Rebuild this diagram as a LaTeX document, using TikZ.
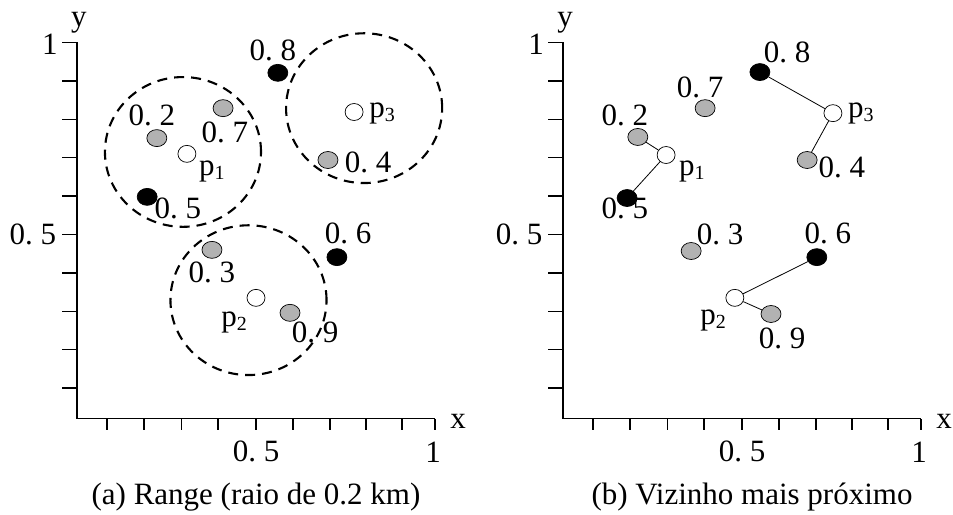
\documentclass[tikz,border=0pt]{standalone}
\usepackage{fontspec}
\setmainfont{Liberation Serif}
\usetikzlibrary{shapes.geometric}
\definecolor{dotgray}{RGB}{178,178,178}
\newcommand\psub[1]{p\raisebox{-4pt}{\fontsize{20}{20}\selectfont#1}}
\tikzset{
  obj/.style={ellipse,draw,line width=0.7pt,minimum width=20pt,minimum height=17pt,inner sep=0pt},
  wdot/.style={obj,fill=white,minimum width=18pt},
  gdot/.style={obj,fill=dotgray},
  bdot/.style={obj,fill=black},
  lab/.style={font=\fontsize{31}{36}\selectfont,inner sep=0pt},
  rng/.style={line width=2.1pt,dash pattern=on 10pt off 7pt},
  ax/.style={line width=1.3pt},
  link/.style={line width=0.8pt}
}
\begin{document}
\begin{tikzpicture}[x=358pt,y=384pt]
  \useasboundingbox (-77pt,-87.5pt) rectangle (876pt,426.5pt);
  % axes of both panels
  \foreach \dx/\s in {0/a,486/b}{
    \begin{scope}[xshift=\dx pt]
      \draw[ax] (0,1) -- (0,0.02) -- (1,0.02);
      \foreach \t in {0.1,0.2,...,1} \draw[ax] (0,\t) -- ++(-15pt,0);
      \foreach \t in {0.084,0.187,0.291,0.394,0.5,0.603,0.707,0.807,0.908,1} \draw[ax] (\t,0.02) -- ++(0,-11pt);
      \node[lab] (\s y1) at ([xshift=-27pt,yshift=-2pt]0,1) {1};
      \node[lab] (\s y5) at ([xshift=-44pt]0,0.5) {0.\ 5};
      \node[lab] (\s ylab) at ([xshift=2pt,yshift=20pt]0,1) {y};
      \node[lab] (\s x5) at ([yshift=-33pt]0.5,0.02) {0.\ 5};
      \node[lab] (\s x1) at ([xshift=-2pt,yshift=-33pt]1,0.02) {1};
      \node[lab] (\s xlab) at ([xshift=23pt,yshift=-3pt]1,0.02) {x};
    \end{scope}
  }

  % (a) range
  \draw[rng] (0.296,0.715) ellipse (0.218 and 0.195);
  \draw[rng] (0.802,0.829) ellipse (0.218 and 0.195);
  \draw[rng] (0.479,0.329) ellipse (0.218 and 0.195);
  \node[gdot] (a2) at (0.223,0.751) {}; \node[lab] (la2) at (0.209,0.811) {0.\ 2};
  \node[wdot] (ap1) at (0.307,0.710) {}; \node[lab] (lap1) at (0.377,0.663) {\psub1};
  \node[gdot] (a7) at (0.408,0.829) {}; \node[lab] (la7) at (0.413,0.767) {0.\ 7};
  \node[bdot] (a5) at (0.196,0.598) {}; \node[lab] (la5) at (0.282,0.569) {0.\ 5};
  \node[bdot] (a8) at (0.561,0.921) {}; \node[lab] (la8) at (0.547,0.980) {0.\ 8};
  \node[wdot] (ap3) at (0.774,0.819) {}; \node[lab] (lap3) at (0.852,0.816) {\psub3};
  \node[gdot] (a4) at (0.701,0.694) {}; \node[lab] (la4) at (0.813,0.689) {0.\ 4};
  \node[bdot] (a6) at (0.726,0.441) {}; \node[lab] (la6) at (0.757,0.504) {0.\ 6};
  \node[gdot] (a3) at (0.377,0.460) {}; \node[lab] (la3) at (0.377,0.400) {0.\ 3};
  \node[wdot] (ap2) at (0.500,0.335) {}; \node[lab] (lap2) at (0.439,0.272) {\psub2};
  \node[gdot] (a9) at (0.595,0.296) {}; \node[lab] (la9) at (0.665,0.246) {0.\ 9};
  \node[lab] (capa) at ([yshift=-78pt]0.5,0.02) {(a) Range (raio de 0.2 km)};

  % (b) nearest neighbour
  \begin{scope}[xshift=486pt]
    \node[bdot] (b8) at (0.550,0.923) {}; \node[lab] (lb8) at (0.626,0.973) {0.\ 8};
    \node[gdot] (b7) at (0.397,0.829) {}; \node[lab] (lb7) at (0.383,0.884) {0.\ 7};
    \node[gdot] (b2) at (0.209,0.754) {}; \node[lab] (lb2) at (0.173,0.811) {0.\ 2};
    \node[wdot] (bp1) at (0.288,0.707) {}; \node[lab] (lbp1) at (0.360,0.663) {\psub1};
    \node[bdot] (b5) at (0.179,0.595) {}; \node[lab] (lb5) at (0.173,0.569) {0.\ 5};
    \node[wdot] (bp3) at (0.754,0.816) {}; \node[lab] (lbp3) at (0.832,0.816) {\psub3};
    \node[gdot] (b4) at (0.682,0.694) {}; \node[lab] (lb4) at (0.779,0.676) {0.\ 4};
    \node[gdot] (b3) at (0.358,0.457) {}; \node[lab] (lb3) at (0.439,0.501) {0.\ 3};
    \node[bdot] (b6) at (0.709,0.441) {}; \node[lab] (lb6) at (0.740,0.504) {0.\ 6};
    \node[wdot] (bp2) at (0.480,0.335) {}; \node[lab] (lbp2) at (0.419,0.275) {\psub2};
    \node[gdot] (b9) at (0.581,0.293) {}; \node[lab] (lb9) at (0.612,0.230) {0.\ 9};
    \draw[link] (bp1) -- (b2); \draw[link] (bp1) -- (b5);
    \draw[link] (bp3) -- (b8); \draw[link] (bp3) -- (b4);
    \draw[link] (bp2) -- (b6); \draw[link] (bp2) -- (b9);
    \node[lab] (capb) at ([xshift=10pt,yshift=-78pt]0.5,0.02) {(b) Vizinho mais próximo};
  \end{scope}
\end{tikzpicture}
\end{document}
